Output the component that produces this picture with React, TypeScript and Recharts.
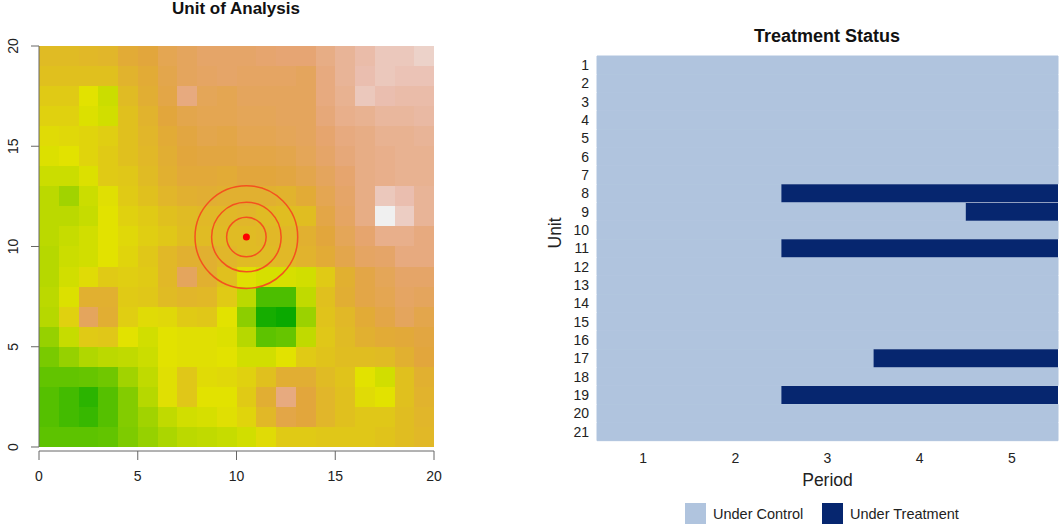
import {
  Bar,
  BarChart,
  ReferenceArea,
  ReferenceDot,
  ReferenceLine,
  Scatter,
  ScatterChart,
  XAxis,
  YAxis,
} from "recharts";

// terrain values, top row of the map first (0 = green, 50 = yellow, 100 = white)
const terrainRows: number[][] = [
  [62, 62, 63, 64, 68, 70, 74, 76, 78, 78, 78, 79, 80, 80, 83, 86, 89, 92, 92, 94],
  [60, 60, 60, 60, 65, 68, 73, 76, 77, 78, 77, 77, 77, 76, 82, 86, 90, 92, 91, 91],
  [57, 57, 50, 46, 62, 67, 72, 82, 75, 74, 76, 76, 76, 76, 82, 85, 92, 90, 89, 89],
  [55, 55, 49, 47, 60, 65, 70, 73, 74, 74, 75, 75, 76, 76, 81, 84, 85, 87, 87, 88],
  [52, 53, 54, 56, 60, 64, 68, 71, 73, 72, 74, 74, 75, 76, 79, 82, 83, 85, 85, 86],
  [49, 50, 54, 57, 60, 63, 67, 70, 71, 71, 72, 72, 73, 75, 78, 81, 83, 84, 85, 85],
  [46, 46, 49, 57, 58, 62, 66, 69, 69, 68, 70, 70, 71, 73, 76, 79, 83, 84, 85, 85],
  [43, 38, 46, 51, 57, 60, 64, 66, 67, 66, 66, 66, 65, 68, 74, 78, 83, 92, 90, 86],
  [43, 43, 45, 50, 55, 57, 60, 62, 63, 63, 64, 62, 61, 61, 72, 77, 83, 100, 93, 86],
  [43, 45, 47, 50, 53, 56, 58, 61, 62, 62, 62, 63, 63, 66, 70, 75, 79, 84, 84, 82],
  [42, 46, 47, 50, 54, 58, 63, 66, 66, 64, 62, 62, 63, 65, 68, 73, 77, 78, 82, 82],
  [42, 47, 52, 57, 56, 57, 63, 76, 66, 60, 51, 48, 48, 47, 57, 66, 72, 75, 78, 78],
  [43, 49, 66, 66, 57, 58, 62, 64, 63, 57, 43, 20, 20, 44, 60, 67, 72, 74, 77, 76],
  [42, 55, 76, 67, 56, 52, 53, 57, 58, 50, 34, 6, 3, 37, 59, 63, 68, 72, 76, 73],
  [36, 45, 57, 58, 50, 47, 50, 51, 51, 49, 42, 24, 26, 44, 58, 62, 66, 68, 69, 71],
  [30, 36, 41, 43, 44, 46, 50, 51, 51, 50, 47, 47, 50, 57, 59, 61, 61, 62, 66, 70],
  [25, 25, 26, 28, 38, 44, 51, 58, 52, 53, 55, 60, 67, 67, 62, 59, 50, 47, 60, 66],
  [22, 18, 12, 22, 32, 42, 51, 58, 50, 50, 57, 67, 82, 70, 64, 60, 52, 50, 60, 65],
  [22, 18, 15, 22, 32, 38, 44, 47, 48, 51, 54, 63, 72, 70, 64, 60, 58, 58, 61, 64],
  [24, 24, 24, 25, 31, 36, 40, 43, 44, 45, 47, 52, 57, 57, 58, 58, 58, 59, 61, 63],
];

const mapTicks = [0, 5, 10, 15, 20];
const unitCentre = [{ x: 10.5, y: 10.47 }];
const ringRadii = [1, 1.76, 2.6];

const units = Array.from({ length: 21 }, (_, i) => String(i + 1));
const periods = ["1", "2", "3", "4", "5"];
// first treated period per unit, others stay under control
const firstTreated: Record<string, number> = { "8": 3, "9": 5, "11": 3, "17": 4, "19": 3 };

const statusData = units.map((unit) => {
  const start = firstTreated[unit];
  return {
    unit,
    control: start ? start - 1 : periods.length,
    treated: start ? periods.length - start + 1 : 0,
  };
});

const FONT = "'Liberation Sans', Arial, sans-serif";
const CONTROL = "#B0C4DE";
const TREATED = "#06266F";
const AXIS = "#666666";
const PX_PER_UNIT = 19.75;

// upper half of the ramp: yellow to white
const warmStops = [
  [224, 226, 0],
  [224, 192, 30],
  [226, 166, 60],
  [230, 165, 115],
  [234, 190, 175],
  [240, 240, 240],
];

// lower half follows R's terrain.colors, green to yellow
function terrainColor(value: number) {
  const t = value / 100;
  if (t <= 0.5) {
    const k = t * 2;
    const v = 0.65 + 0.235 * k;
    return `rgb(${Math.round(v * k * 255)},${Math.round(v * 255)},0)`;
  }
  const pos = (t - 0.5) * 2 * (warmStops.length - 1);
  const i = Math.min(Math.floor(pos), warmStops.length - 2);
  const mix = pos - i;
  const [r, g, b] = warmStops[i].map((c, n) => Math.round(c + (warmStops[i + 1][n] - c) * mix));
  return `rgb(${r},${g},${b})`;
}

function RotatedTick({ x, y, payload }: any) {
  return (
    <text
      transform={`translate(${x - 11},${y}) rotate(-90)`}
      textAnchor="middle"
      fontSize={14}
      fontFamily={FONT}
      fill="#222"
    >
      {payload.value}
    </text>
  );
}

function StatusLegend() {
  const items = [
    { label: "Under Control", color: CONTROL, width: 137 },
    { label: "Under Treatment", color: TREATED, width: 140 },
  ];
  return (
    <div style={{ display: "flex", fontFamily: FONT, fontSize: 14.5, color: "#222" }}>
      {items.map((item) => (
        <div key={item.label} style={{ display: "flex", alignItems: "center", width: item.width }}>
          <span style={{ width: 21, height: 21, background: item.color, marginRight: 7 }} />
          {item.label}
        </div>
      ))}
    </div>
  );
}

function DotShape({ cx, cy }: any) {
  return <circle cx={cx} cy={cy} r={3.5} fill="#FF0000" />;
}

function UnitMap() {
  return (
    <ScatterChart
      width={530}
      height={531}
      margin={{ top: 46, right: 96, bottom: 0, left: 0 }}
    >
      <XAxis
        type="number"
        dataKey="x"
        domain={[0, 20]}
        ticks={mapTicks}
        height={80}
        tickSize={9}
        tickMargin={11}
        stroke={AXIS}
        tick={{ fontSize: 14, fontFamily: FONT, fill: "#222" }}
      />
      <YAxis
        type="number"
        dataKey="y"
        domain={[-0.2, 20]}
        ticks={mapTicks}
        width={39}
        axisLine={false}
        tickSize={8}
        stroke={AXIS}
        tick={<RotatedTick />}
      />
      {terrainRows.map((row, r) =>
        row.map((value, c) => (
          <ReferenceArea
            key={`${r}-${c}`}
            x1={c}
            x2={c + 1}
            y1={19 - r}
            y2={20 - r}
            fill={terrainColor(value)}
            fillOpacity={1}
            shapeRendering="crispEdges"
          />
        ))
      )}
      <ReferenceLine
        segment={[
          { x: 0, y: 0 },
          { x: 0, y: 20 },
        ]}
        stroke={AXIS}
        ifOverflow="visible"
      />
      {ringRadii.map((radius) => (
        <ReferenceDot
          key={radius}
          x={unitCentre[0].x}
          y={unitCentre[0].y}
          r={radius * PX_PER_UNIT}
          fill="none"
          stroke="#F4511E"
          strokeWidth={1.5}
        />
      ))}
      <Scatter data={unitCentre} fill="#FF0000" isAnimationActive={false} shape={<DotShape />} />
    </ScatterChart>
  );
}

function TreatmentStatus() {
  return (
    <BarChart
      width={530}
      height={531}
      layout="vertical"
      data={statusData}
      barCategoryGap={0}
      margin={{ top: 56, right: 2, bottom: 0, left: 0 }}
    >
      <XAxis
        type="number"
        domain={[0, periods.length]}
        ticks={periods.map((_, i) => i + 0.5)}
        tickFormatter={(v) => String(v + 0.5)}
        axisLine={false}
        tickLine={false}
        height={90}
        tickMargin={6}
        tick={{ fontSize: 14, fontFamily: FONT, fill: "#222" }}
        label={{
          value: "Period",
          position: "insideTop",
          offset: 33,
          fontSize: 17.5,
          fontFamily: FONT,
          fill: "#222",
        }}
      />
      <YAxis
        type="category"
        dataKey="unit"
        interval={0}
        width={67}
        axisLine={false}
        tickLine={false}
        tickMargin={2}
        tick={{ fontSize: 14, fontFamily: FONT, fill: "#222" }}
        label={{
          value: "Unit",
          angle: -90,
          position: "insideLeft",
          offset: 25,
          fontSize: 17.5,
          fontFamily: FONT,
          fill: "#222",
        }}
      />
      {/* the stroke closes the hairlines between rows */}
      <Bar dataKey="control" stackId="status" fill={CONTROL} stroke={CONTROL} isAnimationActive={false} />
      <Bar dataKey="treated" stackId="status" fill={TREATED} isAnimationActive={false} />
    </BarChart>
  );
}

export default function App() {
  const titleStyle = {
    position: "absolute" as const,
    fontFamily: FONT,
    fontWeight: "bold",
    color: "#111",
    textAlign: "center" as const,
  };
  return (
    <div style={{ position: "absolute", left: 0, top: 0, width: 1060, height: 531, overflow: "hidden", background: "#fff" }}>
      <div style={{ position: "absolute", left: 0, top: 0 }}>
        <UnitMap />
      </div>
      <div style={{ position: "absolute", left: 530, top: 0 }}>
        <TreatmentStatus />
      </div>
      <div style={{ position: "absolute", left: 685, top: 503 }}>
        <StatusLegend />
      </div>
      <div style={{ ...titleStyle, left: 136, top: -1, width: 200, fontSize: 17 }}>Unit of Analysis</div>
      <div style={{ ...titleStyle, left: 677, top: 26, width: 300, fontSize: 18 }}>Treatment Status</div>
    </div>
  );
}
